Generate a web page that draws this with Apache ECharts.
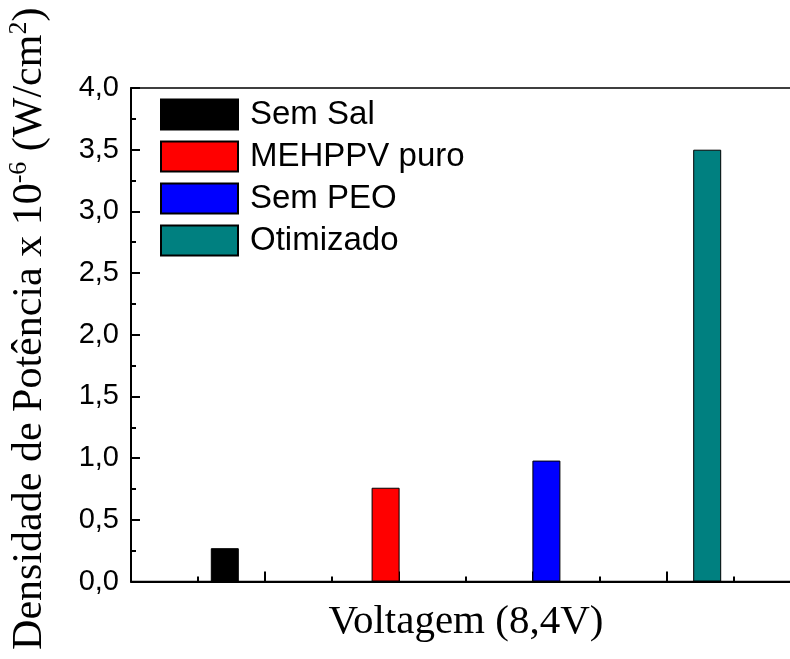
<!DOCTYPE html>
<html>
<head>
<meta charset="utf-8">
<script src="https://cdn.jsdelivr.net/npm/echarts@6/dist/echarts.min.js"></script>
<style>html,body{margin:0;padding:0;background:#fff}#c{width:790px;height:659px}</style>
</head>
<body>
<div id="c"></div>
<script>
var categories = ['Sem Sal', 'MEHPPV puro', 'Sem PEO', 'Otimizado'];
var xPositions = [0.7, 1.9, 3.1, 4.3];
var values = [0.27, 0.76, 0.98, 3.5];
var colors = ['#000000', '#ff0000', '#0000ff', '#008080'];
var yTicks = [0, 0.5, 1.0, 1.5, 2.0, 2.5, 3.0, 3.5, 4.0];

var chart = echarts.init(document.getElementById('c'));
var series = categories.map(function (name, i) {
  return {
    name: name,
    type: 'bar',
    barWidth: 28,
    barGap: '-100%',
    itemStyle: { color: colors[i], borderColor: '#000', borderWidth: 1 },
    data: [[xPositions[i], values[i]]]
  };
});
chart.setOption({
  animation: false,
  backgroundColor: '#fff',
  grid: { left: 131, top: 88, width: 670, height: 493.5, containLabel: false, outerBoundsMode: 'none', show: true, borderColor: '#000', borderWidth: 1.5, backgroundColor: 'transparent' },
  legend: {
    left: 160, top: 98, orient: 'vertical', padding: 0,
    itemWidth: 77, itemHeight: 30, itemGap: 9,
    icon: 'rect',
    textStyle: { fontFamily: 'Liberation Sans', fontSize: 33, color: '#000', padding: [0, 0, 0, 7] },
    data: categories
  },
  xAxis: {
    type: 'value', min: 0, max: 5, interval: 1,
    name: 'Voltagem (8,4V)', nameLocation: 'middle', nameGap: 20,
    nameTextStyle: { fontFamily: 'Liberation Serif', fontSize: 41, color: '#000' },
    axisLine: { show: true, lineStyle: { color: '#000', width: 2 } },
    axisTick: { show: true, inside: true, length: 10, lineStyle: { color: '#000', width: 2 } },
    minorTick: { show: true, splitNumber: 2, length: 5, lineStyle: { color: '#000', width: 2 } },
    axisLabel: { show: false },
    splitLine: { show: false }
  },
  yAxis: {
    type: 'value', min: yTicks[0], max: yTicks[yTicks.length - 1], interval: 0.5,
    name: 'Densidade de Potência x 10{sup|-6} (W/cm{sup|2})',
    nameLocation: 'middle', nameGap: 77,
    nameTextStyle: {
      fontFamily: 'Liberation Serif', fontSize: 42, color: '#000', lineHeight: 48,
      padding: [0, 0, 0, 12],
      rich: { sup: { fontFamily: 'Liberation Serif', fontSize: 26, color: '#000', verticalAlign: 'top', lineHeight: 30 } }
    },
    axisLine: { show: true, lineStyle: { color: '#000', width: 2 } },
    axisTick: { show: true, inside: true, length: 9, lineStyle: { color: '#000', width: 2 } },
    minorTick: { show: true, splitNumber: 2, length: 5, lineStyle: { color: '#000', width: 2 } },
    axisLabel: {
      margin: 12, fontFamily: 'Liberation Sans', fontSize: 29, color: '#000',
      formatter: function (v) { return v.toFixed(1).replace('.', ','); }
    },
    splitLine: { show: false }
  },
  series: series
});
</script>
</body>
</html>
